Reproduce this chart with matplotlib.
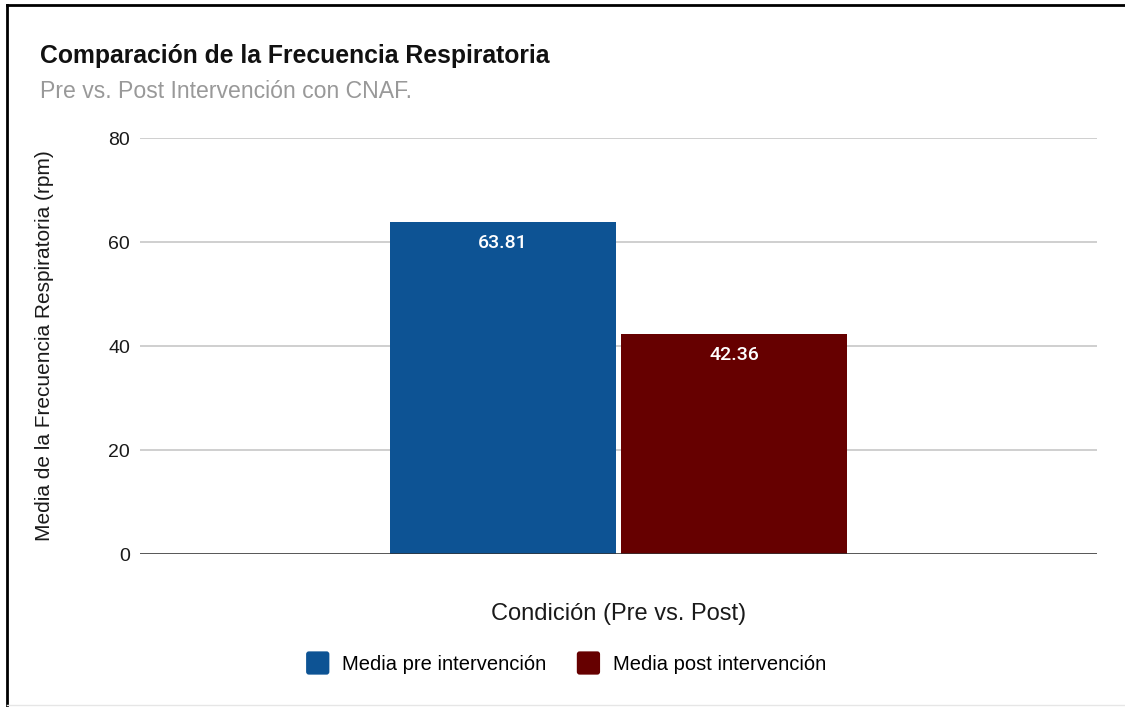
import matplotlib.pyplot as plt
from matplotlib.legend_handler import HandlerPatch
from matplotlib.lines import Line2D
from matplotlib.patches import FancyBboxPatch

# Respiratory rate means before / after high-flow nasal cannula
series = ["Media pre intervención", "Media post intervención"]
values = [63.81, 42.36]
colors = ["#0d5394", "#660000"]
yticks = [0, 20, 40, 60, 80]

plt.rcParams["font.family"] = ["Liberation Sans", "DejaVu Sans"]


class RoundSquare(HandlerPatch):
    def create_artists(self, legend, orig_handle, xdescent, ydescent,
                       width, height, fontsize, trans):
        side = min(width, height)
        p = FancyBboxPatch((-xdescent + (width - side) / 2,
                            -ydescent + (height - side) / 2),
                           side, side, boxstyle="round,pad=0,rounding_size=2",
                           facecolor=orig_handle.get_facecolor(),
                           edgecolor="none", transform=trans)
        return [p]


fig = plt.figure(figsize=(11.25, 7.07), dpi=100)
ax = fig.add_axes([0.1244, 0.2164, 0.8507, 0.5884])

bar_w = 0.236
offsets = [-0.121, 0.121]
handles = []
for off, val, col, name in zip(offsets, values, colors, series):
    b = ax.bar(off, val, width=bar_w, color=col, label=name, zorder=3)
    handles.append(b.patches[0])
    ax.annotate(f"{val:.2f}", xy=(off, val), xytext=(0, -15),
                textcoords="offset points", ha="center", va="center",
                color="white", fontsize=14, family=["Roboto", "DejaVu Sans"],
                fontweight="medium", zorder=4)

ax.set_xlim(-0.5, 0.5)
ax.set_ylim(0, 80)
ax.set_yticks(yticks)
ax.set_xticks([])
ax.tick_params(axis="y", length=0, pad=7, labelsize=14, labelcolor="#1a1a1a")
ax.grid(axis="y", color="#cccccc", linewidth=1.3, zorder=0)
for s in ax.spines.values():
    s.set_visible(False)
ax.axhline(0, color="#333333", linewidth=1.8, zorder=5)

ax.set_ylabel("Media de la Frecuencia Respiratoria (rpm)", fontsize=15,
              color="#1a1a1a")
ax.yaxis.set_label_coords(-0.09, 0.5)
ax.set_xlabel("Condición (Pre vs. Post)", fontsize=17, color="#1a1a1a",
              va="center")
ax.xaxis.set_label_coords(0.5, (554 - 614) / 416)

fig.text(0.0356, 1 - 63 / 707, "Comparación de la Frecuencia Respiratoria",
         fontsize=17.8, fontweight="bold", color="#111111", va="baseline")
fig.text(0.0356, 1 - 98 / 707, "Pre vs. Post Intervención con CNAF.",
         fontsize=16.6, color="#999999", va="baseline")

fig.legend(handles, series, loc="center",
           bbox_to_anchor=(0.502, 1 - 663 / 707), ncol=2,
           frameon=False, fontsize=14.5, handlelength=1.4, handleheight=1.4,
           handletextpad=0.5, columnspacing=1.4,
           handler_map={h: RoundSquare() for h in handles})

# outer frame of the card
fig.add_artist(Line2D([0.0062, 0.0062], [0, 0.993], color="black",
                      linewidth=2, transform=fig.transFigure))
fig.add_artist(Line2D([0.0062, 1], [0.993, 0.993], color="black",
                      linewidth=2, transform=fig.transFigure))
fig.add_artist(Line2D([0.0062, 1], [0.003, 0.003], color="#e6e6e6",
                      linewidth=1, transform=fig.transFigure))

fig.savefig("out.png", dpi=100)
